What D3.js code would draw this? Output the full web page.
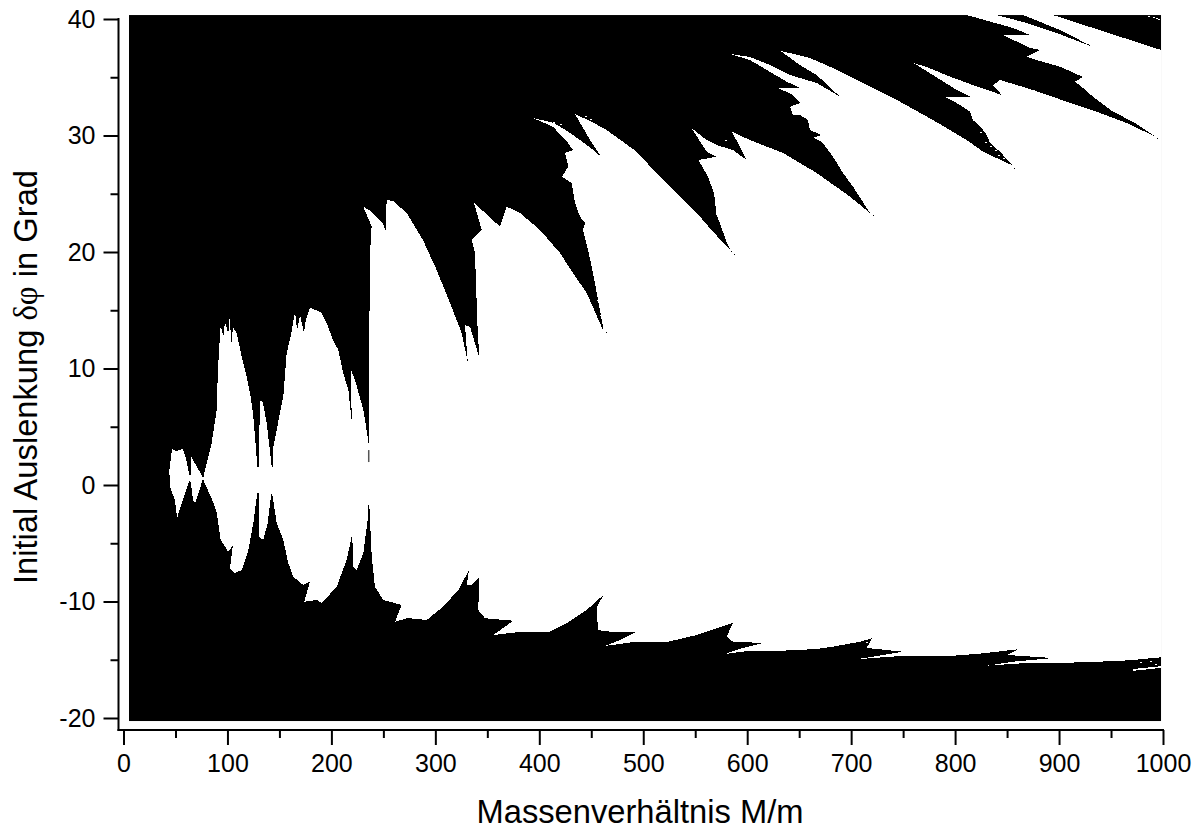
<!DOCTYPE html>
<html>
<head>
<meta charset="utf-8">
<script src="https://cdn.jsdelivr.net/npm/d3@7"></script>
<style>
  html, body { margin: 0; background: #fff; }
  svg { display: block; }
  text { font-family: "Liberation Sans", Arial, sans-serif; fill: #000; }
</style>
</head>
<body>
<svg id="chart" width="1201" height="830"></svg>
<script>
// ticks
const xMajor = [0, 100, 200, 300, 400, 500, 600, 700, 800, 900, 1000];
const xMinor = [50, 150, 250, 350, 450, 550, 650, 750, 850, 950];
const yMajor = [-20, -10, 0, 10, 20, 30, 40];
const yMinor = [-15, -5, 5, 15, 25, 35];

// scanned area [mass ratio, deflection]
const scanMass = [5.3, 998.1];
const scanDelta = [-20.26, 40.34];

// upper edge of the white region, left to right
const upperEdge = [
  [76.8,0.66],[84.8,3.6],[89.7,6.44],[90.6,9.3],[91.9,11.59],[93.5,13.73],[96,12.7],[97.6,14],[100.8,13],[102.5,14.76],
  [103.4,11.84],[105.3,13.5],[108.9,13.05],[113.7,11],[118.5,9.3],[122.4,7.58],[124.9,5.86],[126.8,3.86],[128.7,1.57],[130.1,1.57],
  [131.3,7.24],[133.9,7.15],[137.8,5.32],[142.6,1.57],[144.1,1.57],[144.1,3.29],[153.7,7.58],[157,11.33],[160.8,12.73],[165,14.87],
  [167,13.3],[169.8,14.59],[173.6,13.05],[175.5,14.2],[179.4,15.25],[190.7,14.76],[195.5,13.9],[201.5,12.45],[206.6,11.6],[211.4,9.61],
  [216.3,8.15],[219.5,5.58],[218.9,9.87],[222.7,9.01],[230.7,6.44],[234.9,4.14],[235.5,3.6],
  [236.2,3.6],[236.5,13.9],[237.8,21.63],[238.8,22.17],[230.7,23.89],[239.1,23.43],[248.7,22.57],[253,21.72],[252.5,22.92],
  [253.2,24.46],[259.3,24.38],[272.4,23.35],[288.1,21.03],[301.3,18.45],[314.1,15.62],[325.3,13.05],[331.1,10.58],
  [328.5,13.73],[333.3,13.59],[338.1,12.19],[342.3,10.9],[340.4,13.9],[339.1,17.34],[338.1,19.91],[335,21.03],[344.6,21.89],
  [337.2,24.21],[345.8,23.52],[362.2,22.17],[368.6,23.89],[381.4,23.35],[400.7,21.89],[419.9,19.91],[432.4,18.2],[445.6,16.48],
  [461.3,13.3],[461.3,13.59],[456.5,15.88],[451.7,18.2],[446.9,20.17],[442,21.89],[444,22.5],[439.2,23.03],[434.3,24.21],[431.2,25.92],
  [421.6,26.46],[427.9,27.32],[424.7,28.5],[432.4,28.75],[427.6,29.36],[413.2,30.75],[393.9,31.5],[413.4,31.1],[426.4,30.41],
  [439.2,29.61],[452,28.75],[460,28.13],[448.8,29.61],[434.3,31.85],[452,31.1],[464.8,30.47],[493.7,28.61],[512.9,26.75],
  [535.4,24.75],[554.6,23.03],[567.1,21.74],[585.1,20.02],[580.3,20.77],[573.8,22.49],[570.5,23.18],[568.1,25.06],[562.3,26.46],
  [553,27.9],[570.7,28.18],[561,28.61],[546.6,30.62],[561,29.61],[570.7,29.18],[586.3,28.75],[599.5,27.9],[591.1,29.36],[585.1,30.33],
  [602.7,29.61],[634.4,28.5],[666.9,26.78],[698.9,24.75],[718.1,23.35],[701.8,25.6],[692.2,26.78],[682.5,28.18],[671.7,29.47],
  [663.3,29.8],[671.7,30.04],[660.4,30.47],[658.5,31.33],[650.8,31.76],[644,31.76],[641.2,32.47],[650.8,32.79],[644,33.48],
  [629.6,34.08],[650.8,34.08],[638,34.62],[618.8,35.62],[602.7,36.48],[583.5,37],[602.7,36.74],[621.9,36.05],[641.2,35.19],
  [666.9,34.51],[689.3,33.33],[666.9,35.19],[650.8,36.05],[631.6,37.28],[660.4,36.65],[682.5,35.79],[715,34.33],[747,32.9],
  [778.7,31.33],[811.2,29.61],[826.8,28.61],[849.6,27.66],[854.7,27.47],[843.2,28.61],[833.6,29.36],[830.4,30.04],[825.6,30.62],
  [817.2,31.33],[814.3,32.04],[804.7,32.62],[790.3,33.33],[816,33.28],[801.5,33.91],[778.7,35.19],[759.5,36.25],[775.8,35.77],
  [795.1,35.05],[817.2,34.33],[844.8,33.48],[836.5,34.33],[843.2,34.76],[874.9,33.91],[907.4,32.9],[939.4,31.93],[965.1,31.07],
  [993.8,29.85],[971.1,31.18],[951.9,32.04],[932.7,33.33],[923,34.08],[915.3,34.62],[923,35.02],[900.9,35.91],[881.7,36.39],
  [868.9,36.76],[881.7,37.34],[872.1,37.51],[846.1,38.63],[872.1,38.63],[855.7,39.23],[811.2,40.34],[840,40.34],[868.9,39.66],
  [897.7,38.8],[932.7,37.6],[900.9,39.06],[865.3,40.34],[894.2,40.34],[998.1,37.34]
];

// lower edge of the white region, left to right
const lowerEdge = [
  [76.8,0.43],[86.1,-1.44],[89.7,-2.4],[93.5,-4.72],[100.8,-5.73],[105.3,-5.15],[102.5,-7.13],[107.3,-7.56],[113.7,-7.3],
  [120.1,-5.58],[124.9,-3.26],[128.7,-0.71],[130.1,-0.71],[130.6,-4.44],[134.5,-4.72],[138.7,-3.26],[142.2,-0.71],[143.5,-1],
  [147.4,-3.26],[153.7,-4.72],[158.5,-6.7],[163.3,-7.87],[173,-8.59],[179.4,-8.3],[173.9,-10.02],[185.9,-9.87],[190.7,-10.13],
  [205.1,-8.73],[214.7,-6.44],[219.5,-4.44],[220.1,-4.44],[221.1,-7.01],[224.3,-7.3],[230.7,-5.84],[234.9,-3],[235.5,-1.72],
  [236.5,-1.72],[238.8,-6.16],[241.9,-8.73],[249.9,-9.87],[267.6,-10.3],[261.2,-11.74],[273.7,-11.42],[291.7,-11.59],
  [307.4,-10.45],[322.1,-9.01],[332.4,-7.3],[330.2,-8.59],[335,-8.59],[342.3,-7.87],[341.3,-10.73],[347.8,-11.44],[375,-11.65],
  [355.8,-12.88],[383.1,-12.59],[410.3,-12.59],[426.4,-11.85],[445.6,-10.73],[461.6,-9.44],[455.2,-10.56],[456.5,-12.45],
  [468,-12.59],[493.7,-12.59],[477.6,-13.31],[463.2,-13.82],[490.1,-13.48],[522.6,-13.48],[551.4,-12.88],[586.3,-11.82],
  [580.3,-13.02],[586.3,-13.45],[615.2,-13.56],[595.9,-13.99],[578.6,-14.51],[602.7,-14.22],[634.4,-14.22],[666.9,-14.08],
  [682.5,-13.88],[708.5,-13.45],[719.8,-13.16],[715,-13.99],[749.9,-14.31],[730.6,-14.59],[705.3,-14.96],[747,-14.68],
  [795.1,-14.68],[826.8,-14.45],[860.5,-14.1],[849.6,-14.59],[894.2,-14.85],[855.7,-15.17],[830.4,-15.51],[868.9,-15.28],
  [907.4,-15.26],[955.5,-15.11],[971.1,-15.02],[998.1,-14.79]
];

// the two small lobes left of the pinch
const leftLobe = [
  [44.1,1.29],[46.7,3.09],[50.5,2.9],[57.2,3.09],[60.1,2.32],[63,1.03],[63,0.28],[57.2,-1.29],[51.5,-2.83],[49.5,-1.29],[44.7,-0.17]
];
const nextLobe = [
  [64.6,2.51],[76.8,0.6],[68.8,-1.55],[66.9,-1.29],[64.6,0.28],[63,0.4],[63,0.8],[64.6,0.9]
];

// white sliver at the lower right, black slit in the neck at 236
const rightSliver = [[971.1,-15.8],[998.1,-15.55],[998.1,-15.7],[971.1,-15.95]];
const neckSlit = [[235.9,3],[235.9,1.97]];

// isolated scan points along the frayed edges
const whiteSpecks = [
  [968.2,31.5],[958.6,32.02],[950.9,32.36],[944.2,32.79],[937.4,33.22],[929.8,33.65],[977.8,30.99],[983.5,30.64],
  [838.4,28.75],[833.6,29.1],[828.8,29.44],[841.3,28.33],[846.1,28.07],[824,30.3],[578.6,21.46],[575.7,22.06],[572.8,22.75],
  [458.4,14.59],[455.5,15.88],[413.2,31.16],[419.9,30.99],[443.8,31.67],[448.8,31.42],[578.6,29.61],[593,29.01],
  [977.8,-15.2],[987.4,-15.11],[992.2,-15.37],[862.4,-14.34],[714.3,-13.48],
  [985.6,40.26],[990.4,40.17],[993.3,40.09],[995.2,40]
];
const blackSpecks = [
  [994.2,29.8],[856.6,27.21],[720.9,23.18],[463.9,13.13],[587.3,19.83],[927.8,37.85]
];

const svg = d3.select('#chart');

const x = d3.scaleLinear().domain([0, 1000]).range([123.5, 1163]);
const y = d3.scaleLinear().domain([-20, 40]).range([718, 19]);

const outline = d3.line().x((d) => x(d[0])).y((d) => y(d[1]));

function plot(g) {
  // the scan is black, everything that stayed stable is white
  g.append('rect')
    .attr('x', x(scanMass[0]))
    .attr('y', y(scanDelta[1]))
    .attr('width', x(scanMass[1]) - x(scanMass[0]))
    .attr('height', y(scanDelta[0]) - y(scanDelta[1]))
    .attr('fill', '#000');

  const white = [upperEdge.concat(lowerEdge.slice().reverse()), leftLobe, nextLobe, rightSliver];
  g.selectAll('.stable')
    .data(white)
    .enter()
    .append('path')
    .classed('stable', true)
    .attr('d', (d) => outline(d) + 'Z')
    .attr('fill', '#fff')
    .attr('shape-rendering', 'crispEdges');

  g.append('path')
    .attr('d', outline(neckSlit))
    .attr('stroke', '#555')
    .attr('stroke-width', 1.5)
    .attr('fill', 'none');

  g.selectAll('.speck-w')
    .data(whiteSpecks)
    .enter()
    .append('rect')
    .classed('speck-w', true)
    .attr('x', (d) => x(d[0]))
    .attr('y', (d) => y(d[1]))
    .attr('width', 2)
    .attr('height', 1)
    .attr('fill', '#fff')
    .attr('shape-rendering', 'crispEdges');

  g.selectAll('.speck-b')
    .data(blackSpecks)
    .enter()
    .append('rect')
    .classed('speck-b', true)
    .attr('x', (d) => x(d[0]))
    .attr('y', (d) => y(d[1]))
    .attr('width', 1)
    .attr('height', 1)
    .attr('fill', '#000')
    .attr('shape-rendering', 'crispEdges');
}

function axes() {
  const xAxis = svg.append('g').attr('transform', 'translate(0,730)');
  xAxis.call(d3.axisBottom(x).tickValues(xMajor).tickSize(15).tickSizeOuter(0).tickPadding(9).tickFormat((d) => `${d}`));
  xAxis.append('g').call(d3.axisBottom(x).tickValues(xMinor).tickSize(8).tickSizeOuter(0).tickFormat(''));
  xAxis.selectAll('.domain').remove();
  xAxis.append('line').attr('x1', 117.5).attr('x2', 1164).attr('stroke', '#000').attr('stroke-width', 2);

  const yAxis = svg.append('g').attr('transform', 'translate(118.5,0)');
  yAxis.call(d3.axisLeft(y).tickValues(yMajor).tickSize(15).tickSizeOuter(0).tickPadding(8).tickFormat((d) => `${d}`));
  yAxis.append('g').call(d3.axisLeft(y).tickValues(yMinor).tickSize(8).tickSizeOuter(0).tickFormat(''));
  yAxis.selectAll('.domain').remove();
  yAxis.append('line').attr('y1', 18).attr('y2', 731).attr('stroke', '#000').attr('stroke-width', 2);

  svg.selectAll('.tick line').attr('stroke', '#000').attr('stroke-width', 2);
  svg.selectAll('.tick text').attr('font-size', 25).attr('font-family', '"Liberation Sans", Arial, sans-serif');
}

plot(svg.append('g'));
axes();

svg.append('text')
  .attr('x', 640)
  .attr('y', 822.5)
  .attr('text-anchor', 'middle')
  .attr('font-size', 32.7)
  .text('Massenverhältnis M/m');

const yLabel = svg.append('text')
  .attr('transform', 'translate(37,377) rotate(-90)')
  .attr('text-anchor', 'middle')
  .attr('font-size', 32.7);
yLabel.append('tspan').text('Initial Auslenkung ');
yLabel.append('tspan').style('font-family', '"Liberation Serif", serif').text('δφ');
yLabel.append('tspan').text(' in Grad');
</script>
</body>
</html>
